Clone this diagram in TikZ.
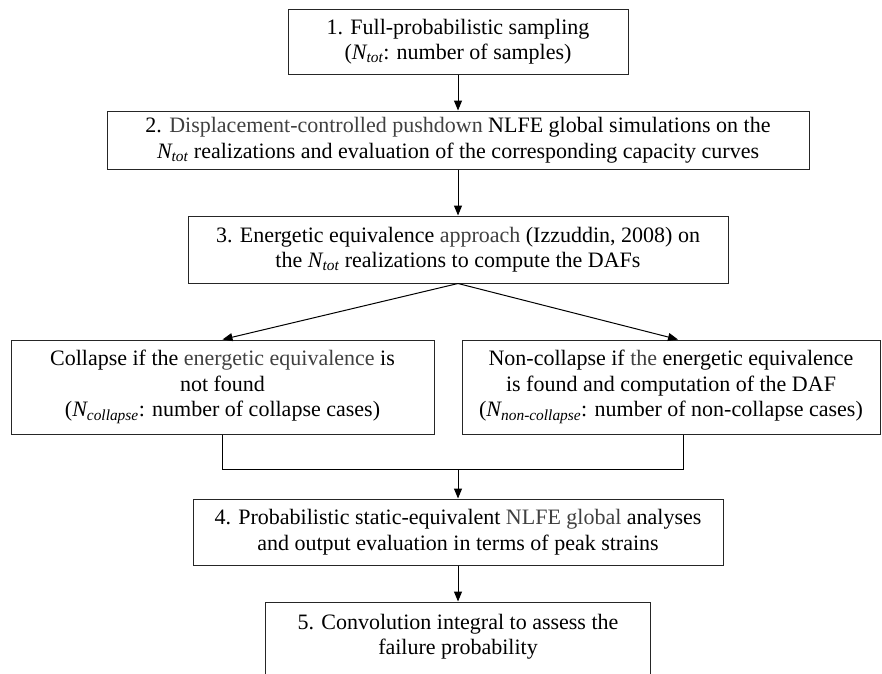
\documentclass[tikz,border=0pt]{standalone}
\usepackage{fontspec}
\setmainfont{Liberation Serif}
\usetikzlibrary{positioning,calc,arrows.meta}

\newcommand{\Nsub}[1]{\textit{N\textsubscript{#1}}}
\newcommand{\soft}[1]{\textcolor{black!75}{#1}}

\begin{document}
\begin{tikzpicture}[x=1pt,y=1pt]
  \useasboundingbox (0,0) rectangle (882,-673);
  \begin{scope}[
    every node/.style={
      rectangle,
      draw=black!85,
      line width=1pt,
      align=center,
      inner sep=0pt,
      font=\fontsize{22}{25.5}\selectfont,
    },
    ]
    % step 1
    \node [minimum width=340pt,minimum height=65pt] (S1) at (458,-41.5)
    {1. Full-probabilistic sampling\\
      (\Nsub{tot}: number of samples)};

    % step 2
    \node [below=36pt of S1,minimum width=702pt,minimum height=58pt] (S2)
    {2. \soft{Displacement-controlled pushdown} NLFE global simulations on the\\
      \Nsub{tot} realizations and evaluation of the corresponding capacity curves};

    % step 3
    \node [below=46pt of S2,minimum width=540pt,minimum height=67pt] (S3)
    {3. Energetic equivalence \soft{approach} (Izzuddin, 2008) on\\
      the \Nsub{tot} realizations to compute the DAFs};

    % collapse
    \node [below=56pt of S3,xshift=-235.5pt,minimum width=423pt,minimum height=94pt] (Coll)
    {Collapse if the \soft{energetic equivalence} is\\
      not found\\
      (\Nsub{collapse}: number of collapse cases)};

    % non-collapse
    \node [below=56pt of S3,xshift=213pt,minimum width=418pt,minimum height=94pt] (NonColl)
    {Non-collapse if \soft{the} energetic equivalence\\
      is found and computation of the DAF\\
      (\Nsub{non-collapse}: number of non-collapse cases)};

    \coordinate (join) at ($(S3.south |- Coll.south)+(0,-35pt)$);

    % step 4
    \node [below=29pt of join,minimum width=530pt,minimum height=66pt] (S4)
    {4. Probabilistic static-equivalent \soft{NLFE global} analyses\\
      and output evaluation in terms of peak strains};

    % step 5
    \node [below=36pt of S4,minimum width=385pt,inner ysep=12pt,text depth=30pt] (S5)
    {5. Convolution integral to assess the\\
      failure probability};
  \end{scope}
  \begin{scope}[
    flowarrow/.style={
      -{Triangle[length=10pt,width=8pt]},
      line width=1pt,
    },
    ]
    \draw (NonColl.south) ++(12pt,0) coordinate (NonCollout);
    \draw (NonColl.north) ++(7pt,0) coordinate (NonCollin);

    \draw [flowarrow] (S1) -- (S2);
    \draw [flowarrow] (S2) -- (S3);
    \draw [flowarrow] (S3.south) -- (Coll.north);
    \draw [flowarrow] (S3.south) -- (NonCollin);
    \draw [line width=1pt] (Coll.south) |- (join) -| (NonCollout);
    \draw [flowarrow] (join) -- (S4);
    \draw [flowarrow] (S4) -- (S5);
  \end{scope}
\end{tikzpicture}
\end{document}
